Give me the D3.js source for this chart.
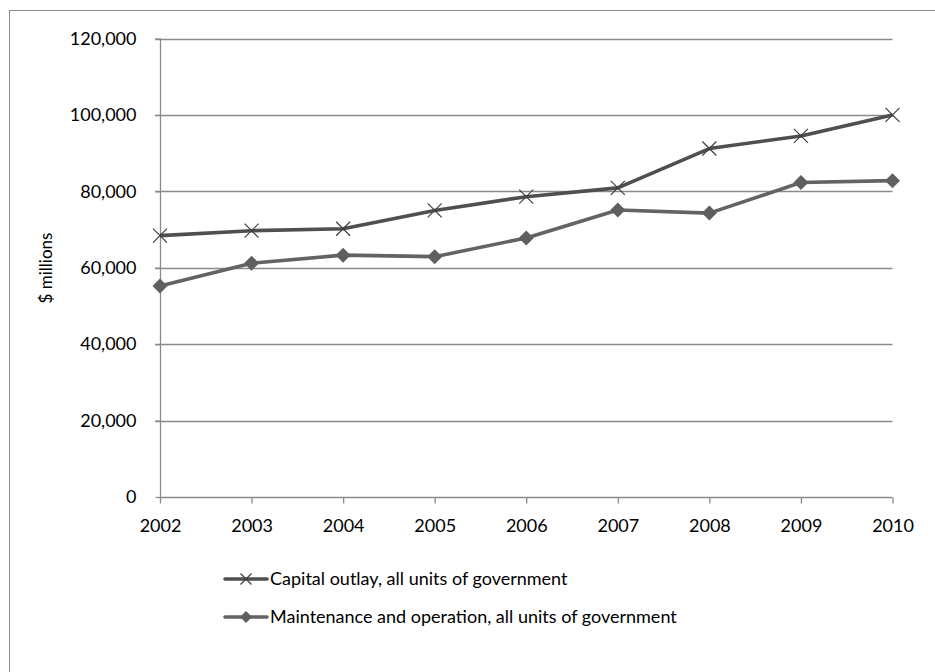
<!DOCTYPE html>
<html>
<head>
<meta charset="utf-8">
<script src="https://cdn.jsdelivr.net/npm/d3@7"></script>
<style>
  html, body { margin: 0; padding: 0; background: #fff; }
  svg { display: block; }
  text { font-family: Lato, "Open Sans", sans-serif; fill: #000; }
</style>
</head>
<body>
<script>
// Highway spending by all units of government, $ millions
const years = [2002, 2003, 2004, 2005, 2006, 2007, 2008, 2009, 2010];
const capitalOutlay = [68400, 69700, 70200, 75000, 78600, 80900, 91200, 94500, 100000];
const maintenance = [55200, 61200, 63300, 62900, 67800, 75100, 74300, 82300, 82800];
const yTicks = [0, 20000, 40000, 60000, 80000, 100000, 120000];
const seriesNames = [
  "Capital outlay, all units of government",
  "Maintenance and operation, all units of government"
];

const W = 935, H = 672;
const FONT = 18;
const svg = d3.select("body").append("svg").attr("width", W).attr("height", H);

// outer chart frame
svg.append("rect")
  .attr("x", 9.5).attr("y", 10.5)
  .attr("width", 960).attr("height", 700)
  .attr("fill", "none").attr("stroke", "#8a8a8a").attr("stroke-width", 1);

const x = d3.scalePoint().domain(years).range([160, 892.5]);
const y = d3.scaleLinear().domain([0, 120000]).range([497, 38.5]);

// horizontal gridlines
svg.append("g").selectAll("line").data(yTicks.filter(d => d > 0)).join("line")
  .attr("x1", 155).attr("x2", 892.5)
  .attr("y1", d => Math.round(y(d)) + 0.5).attr("y2", d => Math.round(y(d)) + 0.5)
  .attr("stroke", "#8a8a8a").attr("stroke-width", 1.3);

// y axis
const yAxis = d3.axisLeft(y).tickValues(yTicks).tickSize(5).tickPadding(19)
  .tickFormat(d3.format(","));
const gy = svg.append("g").attr("transform", "translate(160.5,0)").call(yAxis);
gy.select(".domain").attr("stroke", "#8a8a8a").attr("stroke-width", 1.3).attr("d", `M0,${y(120000)}V${y(0)}`);
gy.selectAll(".tick line").attr("stroke", "#8a8a8a").attr("stroke-width", 1.3);
gy.selectAll(".tick text").attr("font-size", FONT).attr("font-family", "Lato, sans-serif").attr("fill", "#000");

// x axis
const xAxis = d3.axisBottom(x).tickSize(6).tickPadding(16);
const gx = svg.append("g").attr("transform", `translate(0,${Math.round(y(0)) + 0.5})`).call(xAxis);
gx.select(".domain").attr("stroke", "#8a8a8a").attr("stroke-width", 1.3).attr("d", `M${x(2002)},0H${x(2010)}`);
gx.selectAll(".tick line").attr("stroke", "#8a8a8a").attr("stroke-width", 1.3);
gx.selectAll(".tick text").attr("font-size", FONT).attr("font-family", "Lato, sans-serif").attr("fill", "#000");

// y axis title
svg.append("text")
  .attr("transform", "translate(52,268) rotate(-90)")
  .attr("text-anchor", "middle")
  .attr("font-size", 17)
  .text("$ millions");

const line = d3.line().x((d, i) => x(years[i])).y(d => y(d));

const capColor = "#4f4f4f";
const mntColor = "#636363";

// maintenance series
svg.append("path").datum(maintenance)
  .attr("d", line).attr("fill", "none")
  .attr("stroke", mntColor).attr("stroke-width", 3.6).attr("stroke-linejoin", "round");

// capital outlay series
svg.append("path").datum(capitalOutlay)
  .attr("d", line).attr("fill", "none")
  .attr("stroke", capColor).attr("stroke-width", 3.6).attr("stroke-linejoin", "round");

function xMarker(g, cx, cy, r) {
  g.append("path")
    .attr("d", `M${cx - r},${cy - r}L${cx + r},${cy + r}M${cx - r},${cy + r}L${cx + r},${cy - r}`)
    .attr("stroke", "#3f3f3f").attr("stroke-width", 1.2).attr("fill", "none");
}
function diamond(g, cx, cy, r) {
  g.append("path")
    .attr("d", `M${cx},${cy - r}L${cx + r},${cy}L${cx},${cy + r}L${cx - r},${cy}Z`)
    .attr("fill", "#5f5f5f");
}

const markers = svg.append("g");
maintenance.forEach((v, i) => diamond(markers, x(years[i]), y(v), 7.5));
capitalOutlay.forEach((v, i) => xMarker(markers, x(years[i]), y(v), 7));

// legend
const legend = svg.append("g");
const legendRows = [
  { name: seriesNames[0], color: capColor, mark: "x", y: 579 },
  { name: seriesNames[1], color: mntColor, mark: "d", y: 617 }
];
legendRows.forEach(r => {
  legend.append("line")
    .attr("x1", 225).attr("x2", 267).attr("y1", r.y).attr("y2", r.y)
    .attr("stroke", r.color).attr("stroke-width", 3.6).attr("stroke-linecap", "round");
  if (r.mark === "x") xMarker(legend, 246, r.y, 5.5);
  else diamond(legend, 246, r.y, 6);
  legend.append("text")
    .attr("x", 270).attr("y", r.y).attr("dy", "0.35em")
    .attr("font-size", FONT)
    .text(r.name);
});
</script>
</body>
</html>
